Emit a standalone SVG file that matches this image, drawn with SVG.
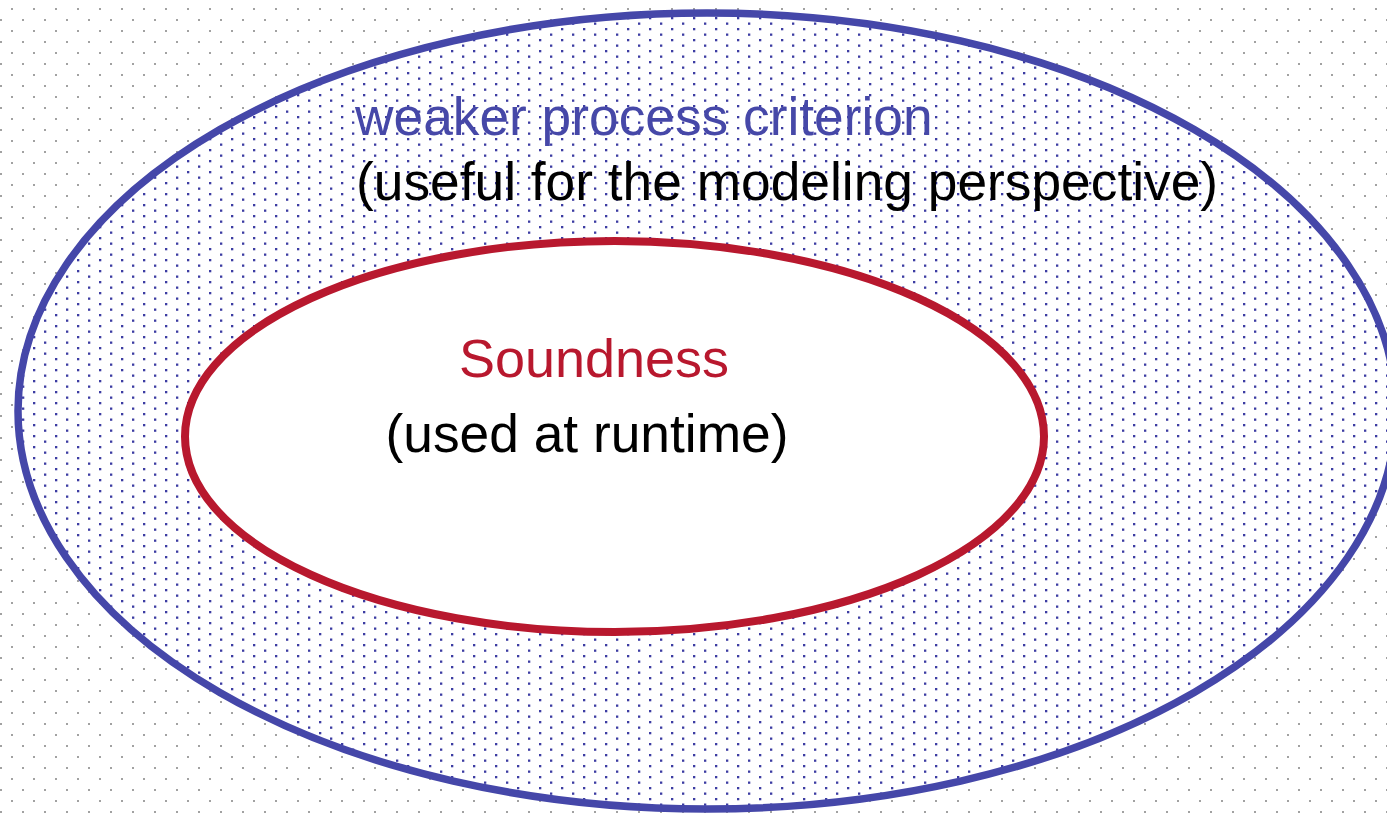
<svg xmlns="http://www.w3.org/2000/svg" width="1387" height="817" viewBox="0 0 1387 817">
  <defs>
    <!-- sparse grey dot screen for the page background -->
    <pattern id="greyDots" patternUnits="userSpaceOnUse" width="22" height="22">
      <rect x="11" y="8" width="2" height="2" fill="#a2a2a2"/>
      <rect x="0" y="19" width="2" height="2" fill="#a2a2a2"/>
    </pattern>
    <!-- denser blue dot screen for the outer set -->
    <pattern id="blueDots" patternUnits="userSpaceOnUse" width="22" height="11">
      <rect width="22" height="11" fill="#ffffff"/>
      <rect x="11" y="6" width="2.3" height="2.3" fill="#3c3ca2"/>
      <rect x="0" y="0.5" width="2.3" height="2.3" fill="#3c3ca2"/>
    </pattern>
    <style>
      .label { font-family: "Liberation Sans", Arial, sans-serif; font-size: 53.3px; }
      .outerSet { fill: url(#blueDots); stroke: #4547a9; stroke-width: 7.5; }
      .innerSet { fill: #ffffff; stroke: #b8182e; stroke-width: 8; }
    </style>
  </defs>

  <rect width="1387" height="817" fill="#ffffff"/>
  <rect width="1387" height="817" fill="url(#greyDots)"/>

  <g id="weaker-criterion">
    <ellipse class="outerSet" cx="707" cy="411" rx="689" ry="398"/>
    <text class="label" x="355" y="135" fill="#4648a8">weaker process criterion</text>
    <text class="label" x="356" y="200" fill="#000000">(useful for the modeling perspective)</text>
  </g>

  <g id="soundness">
    <ellipse class="innerSet" cx="614.5" cy="436.5" rx="429.5" ry="195.5"/>
    <text class="label" x="594" y="377" fill="#b8182e" text-anchor="middle" style="font-size:54px">Soundness</text>
    <text class="label" x="587" y="452" fill="#000000" text-anchor="middle">(used at runtime)</text>
  </g>

  <g id="connectors"/>
</svg>
